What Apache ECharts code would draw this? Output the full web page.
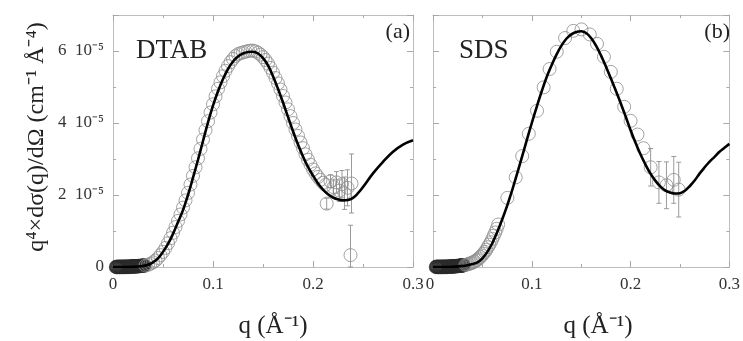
<!DOCTYPE html>
<html><head><meta charset="utf-8">
<script src="https://cdn.jsdelivr.net/npm/echarts@6/dist/echarts.min.js"></script>
<style>html,body{margin:0;padding:0;background:#fff}#c{width:743px;height:341px}</style>
</head><body><div id="c"></div>
<script>
// ---- tick labels ----
const xTickValues = [0, 0.1, 0.2, 0.3];
const xTickLabels = ['0', '0.1', '0.2', '0.3'];
const yTickValues = [0, 2, 4, 6];            // units of 1e-5
const yTickLabels = ['0', '2\u200210⁻⁵', '4\u200210⁻⁵', '6\u200210⁻⁵'];

// ---- DTAB (panel a), y in units of 1e-5 ----
const dtabFitQ = [0,0.01,0.02,0.03,0.035,0.04,0.045,0.05,0.055,0.06,0.065,0.07,0.075,0.08,0.085,0.09,0.095,0.1,0.105,0.11,0.115,0.12,0.125,0.13,0.135,0.14,0.145,0.15,0.155,0.16,0.165,0.17,0.175,0.18,0.185,0.19,0.195,0.2,0.205,0.21,0.215,0.22,0.225,0.23,0.235,0.24,0.245,0.25,0.26,0.27,0.28,0.29,0.3];
const dtabFitY = [0,0,0.005,0.03,0.06,0.13,0.24,0.42,0.64,0.92,1.25,1.58,2.0,2.48,2.98,3.5,4.02,4.48,4.88,5.22,5.5,5.71,5.85,5.93,5.97,5.98,5.93,5.8,5.6,5.3,4.95,4.57,4.17,3.77,3.4,3.07,2.78,2.54,2.32,2.15,2.02,1.93,1.88,1.85,1.86,1.92,2.05,2.22,2.6,2.92,3.2,3.4,3.52];

// low-q points (dense cluster near zero)
const dtabLowQ = [0.003,0.0038,0.0046,0.0054,0.0062,0.007,0.0078,0.0086,0.0094,0.0102,0.011,0.0118,0.0126,0.0134,0.0142,0.015,0.0158,0.0166,0.0174,0.0182,0.019,0.0198,0.0206,0.0214,0.0222,0.023,0.0238,0.0246,0.0254,0.0262,0.027,0.0278,0.0286,0.0294,0.0302,0.031];
const dtabLowY = [0,0,0,0.01,0,0,0.01,0,0,0.01,0,0.01,0,0.01,0.01,0,0.01,0.01,0.01,0.01,0.02,0.01,0.02,0.01,0.02,0.02,0.02,0.02,0.03,0.02,0.03,0.03,0.03,0.03,0.04,0.04];

const dtabQ = [0.0325,0.035,0.0375,0.04,0.0425,0.045,0.0475,0.05,0.0525,0.055,0.0575,0.06,0.0625,0.065,0.0675,
  0.07,0.0725,0.075,0.0775,0.08,0.0825,0.085,0.0875,0.09,0.0925,0.095,0.0975,
  0.1,0.1025,0.105,0.1075,0.11,0.1125,0.115,0.1175,0.12,0.1225,0.125,0.1275,
  0.13,0.1325,0.135,0.1375,0.14,0.1425,0.145,0.1475,0.15,0.1525,0.155,0.1575,
  0.16,0.1625,0.165,0.1675,0.17,0.1725,0.175,0.1775,0.18,0.1825,0.185,0.1875,
  0.19,0.1925,0.195,0.1975,0.2,0.2025,0.205,0.2075,0.21,0.2125];
const dtabY = [0.04,0.06,0.09,0.13,0.18,0.25,0.33,0.42,0.53,0.66,0.8,0.95,1.11,1.28,1.46,
  1.65,1.85,2.06,2.29,2.53,2.77,3.02,3.28,3.54,3.8,4.05,4.29,
  4.52,4.74,4.95,5.13,5.3,5.45,5.58,5.69,5.78,5.86,5.91,5.94,
  5.96,5.98,6.0,6.01,6.01,5.99,5.95,5.9,5.83,5.75,5.65,5.53,
  5.4,5.25,5.1,4.93,4.75,4.57,4.38,4.19,4.0,3.82,3.64,3.46,
  3.3,3.13,2.98,2.84,2.71,2.6,2.5,2.42,2.34,2.28];

const dtabErrQ = [0.2137,0.2175,0.2205,0.2235,0.2265,0.229,0.2315,0.2345,0.2385,0.2375];
const dtabErrY = [1.76,2.38,2.22,2.35,2.12,2.3,2.05,2.2,2.32,0.33];
const dtabErr  = [0.15,0.18,0.22,0.3,0.3,0.38,0.45,0.5,0.82,0.83];

// ---- SDS (panel b), y in units of 1e-5 ----
const sdsFitQ = [0,0.01,0.02,0.03,0.035,0.04,0.045,0.05,0.055,0.06,0.065,0.07,0.075,0.08,0.085,0.09,0.095,0.1,0.105,0.11,0.115,0.12,0.125,0.13,0.135,0.14,0.145,0.15,0.155,0.16,0.165,0.17,0.175,0.18,0.185,0.19,0.195,0.2,0.205,0.21,0.215,0.22,0.225,0.23,0.235,0.24,0.245,0.25,0.255,0.26,0.265,0.27,0.275,0.28,0.285,0.29,0.295,0.3];
const sdsFitY = [0,0,0.005,0.03,0.05,0.08,0.13,0.24,0.42,0.66,0.97,1.32,1.7,2.12,2.58,3.05,3.53,4.0,4.45,4.88,5.27,5.6,5.9,6.15,6.34,6.46,6.53,6.55,6.5,6.36,6.15,5.88,5.57,5.24,4.9,4.55,4.18,3.8,3.45,3.13,2.85,2.6,2.4,2.24,2.13,2.07,2.04,2.05,2.12,2.25,2.41,2.6,2.77,2.93,3.06,3.2,3.31,3.42];

const sdsLowQ = [0.003,0.0038,0.0046,0.0054,0.0062,0.007,0.0078,0.0086,0.0094,0.0102,0.011,0.0118,0.0126,0.0134,0.0142,0.015,0.0158,0.0166,0.0174,0.0182,0.019,0.0198,0.0206,0.0214,0.0222,0.023,0.0238,0.0246,0.0254,0.0262,0.027,0.0278,0.0286,0.0294,0.0302,0.031];
const sdsLowY = [0,0.01,0,0,0.01,0,0,0.01,0,0,0.01,0.01,0,0.01,0,0.01,0.01,0.01,0.01,0.02,0.01,0.01,0.02,0.02,0.02,0.02,0.03,0.02,0.03,0.03,0.03,0.04,0.04,0.04,0.05,0.05];

const sdsQ = [0.033,0.0345,0.036,0.0375,0.039,0.0405,0.042,0.0435,0.045,0.0465,0.048,0.0495,0.051,0.0525,0.054,0.0555,0.057,0.0585,0.06,0.0615,0.063,0.0645,0.066,
  0.0753,0.0837,0.0903,0.097,0.1053,0.112,0.118,0.1253,0.1337,0.142,0.1503,0.1587,0.166,0.173,0.18,0.186,0.1935,0.2,0.207,0.213];
const sdsY = [0.06,0.07,0.08,0.1,0.11,0.13,0.15,0.18,0.2,0.24,0.28,0.32,0.37,0.42,0.48,0.55,0.62,0.69,0.78,0.87,0.96,1.06,1.18,
  1.92,2.49,3.08,3.7,4.34,4.99,5.5,5.98,6.36,6.56,6.6,6.46,6.2,5.84,5.42,4.95,4.45,4.06,3.68,3.3];

const sdsErrQ = [0.2203,0.2287,0.2363,0.2437,0.2487];
const sdsErrY = [2.77,2.35,2.27,2.42,2.15];
const sdsErr  = [0.52,0.58,0.65,0.65,0.76];

// ---- build chart ----
const zip = (a, b) => a.map((v, i) => [v, b[i]]);
const zip3 = (a, b, c) => a.map((v, i) => [v, b[i], c[i]]);
const FONT = '"Liberation Serif", "Times New Roman", serif';
const AX = '#bdbdbd';
const TK = '#a8a8a8';

function xLabel(v) {
  const i = xTickValues.findIndex(t => Math.abs(t - v) < 1e-9);
  return i >= 0 ? xTickLabels[i] : '';
}
function yLabel(v) {
  const i = yTickValues.findIndex(t => Math.abs(t - v) < 1e-9);
  return i >= 0 ? yTickLabels[i] : '';
}

function xAxis(gi, pos, labels, showMin) {
  return {
    type: 'value', gridIndex: gi, position: pos, min: 0, max: 0.3, interval: 0.1,
    axisLine: { show: true, onZero: false, lineStyle: { color: AX, width: 1 } },
    axisTick: { show: true, inside: true, length: 6, lineStyle: { color: TK } },
    minorTick: { show: true, splitNumber: 2, length: 3, lineStyle: { color: TK } },
    splitLine: { show: false },
    axisLabel: { show: labels, formatter: xLabel, showMinLabel: showMin, showMaxLabel: true,
      fontFamily: FONT, fontSize: 17, color: '#333', margin: 9 }
  };
}
function yAxis(gi, pos, labels) {
  return {
    type: 'value', gridIndex: gi, position: pos, min: 0, max: 7, interval: 2,
    axisLine: { show: true, onZero: false, lineStyle: { color: AX, width: 1 } },
    axisTick: { show: true, inside: true, length: 6, lineStyle: { color: TK } },
    minorTick: { show: true, splitNumber: 2, length: 3, lineStyle: { color: TK } },
    splitLine: { show: false },
    axisLabel: { show: labels, formatter: yLabel, showMaxLabel: false, fontFamily: FONT, fontSize: 17, color: '#333', margin: 9 }
  };
}

function errRender(params, api) {
  const q = api.value(0), y = api.value(1), e = api.value(2);
  const top = api.coord([q, y + e]);
  const bot = api.coord([q, Math.max(y - e, 0)]);
  const hw = 2.5;
  const st = { stroke: '#9a9a9a', lineWidth: 1 };
  return {
    type: 'group', children: [
      { type: 'line', shape: { x1: top[0], y1: top[1], x2: bot[0], y2: bot[1] }, style: st },
      { type: 'line', shape: { x1: top[0] - hw, y1: top[1], x2: top[0] + hw, y2: top[1] }, style: st },
      { type: 'line', shape: { x1: bot[0] - hw, y1: bot[1], x2: bot[0] + hw, y2: bot[1] }, style: st }
    ]
  };
}

function scatter(xi, data, border, bw) {
  return { type: 'scatter', xAxisIndex: xi, yAxisIndex: xi, data, symbol: 'circle', symbolSize: 13,
    itemStyle: { color: 'rgba(0,0,0,0)', borderColor: border, borderWidth: bw },
    silent: true, animation: false, z: 2, large: false };
}
function fit(xi, data) {
  return { type: 'line', xAxisIndex: xi, yAxisIndex: xi, data, smooth: 0.4, showSymbol: false,
    lineStyle: { color: '#000', width: 2.6 }, silent: true, animation: false, z: 5 };
}
function errs(xi, data) {
  return { type: 'custom', xAxisIndex: xi, yAxisIndex: xi, data, renderItem: errRender, silent: true, animation: false, z: 1 };
}

const GREY = '#8c8c8c';
const DARK = '#2a2a2a';
const chart = echarts.init(document.getElementById('c'), null, { renderer: 'canvas' });
chart.setOption({
  backgroundColor: '#fff',
  animation: false,
  grid: [
    { left: 113, top: 15, width: 300, height: 252 },
    { left: 433, top: 15, width: 300, height: 252 }
  ],
  xAxis: [xAxis(0, 'bottom', true, true), xAxis(1, 'bottom', true, false), xAxis(0, 'top', false, false), xAxis(1, 'top', false, false)],
  yAxis: [yAxis(0, 'left', true), yAxis(1, 'left', false), yAxis(0, 'right', false), yAxis(1, 'right', false)],
  series: [
    errs(0, zip3(dtabErrQ, dtabErrY, dtabErr)),
    scatter(0, zip(dtabLowQ, dtabLowY), DARK, 1.4),
    scatter(0, zip(dtabQ, dtabY), GREY, 1),
    scatter(0, zip(dtabErrQ, dtabErrY), GREY, 1),
    fit(0, zip(dtabFitQ, dtabFitY)),
    errs(1, zip3(sdsErrQ, sdsErrY, sdsErr)),
    scatter(1, zip(sdsLowQ, sdsLowY), DARK, 1.4),
    scatter(1, zip(sdsQ, sdsY), GREY, 1),
    scatter(1, zip(sdsErrQ, sdsErrY), GREY, 1),
    fit(1, zip(sdsFitQ, sdsFitY))
  ],
  graphic: [
    { type: 'text', x: 37, y: 137, rotation: Math.PI / 2,
      style: { text: 'q⁴×dσ(q)/dΩ (cm⁻¹ Å⁻⁴)', font: '24px ' + FONT, fill: '#222', align: 'center', verticalAlign: 'middle' } },
    { type: 'text', x: 273, y: 326, style: { text: 'q (Å⁻¹)', font: '25px ' + FONT, fill: '#222', align: 'center', verticalAlign: 'middle' } },
    { type: 'text', x: 598, y: 326, style: { text: 'q (Å⁻¹)', font: '25px ' + FONT, fill: '#222', align: 'center', verticalAlign: 'middle' } },
    { type: 'text', x: 136, y: 51, style: { text: 'DTAB', font: '27px ' + FONT, fill: '#222', align: 'left', verticalAlign: 'middle' } },
    { type: 'text', x: 410, y: 32, style: { text: '(a)', font: '22px ' + FONT, fill: '#222', align: 'right', verticalAlign: 'middle' } },
    { type: 'text', x: 459, y: 51, style: { text: 'SDS', font: '27px ' + FONT, fill: '#222', align: 'left', verticalAlign: 'middle' } },
    { type: 'text', x: 730, y: 32, style: { text: '(b)', font: '22px ' + FONT, fill: '#222', align: 'right', verticalAlign: 'middle' } },
    // q = 0 label of the right panel (the axis's own min label did not render here)
    { type: 'text', x: 430, y: 285, z: 100, style: { text: xTickLabels[0], font: '17px ' + FONT, fill: '#333', align: 'center', verticalAlign: 'middle' } }
  ]
});
</script></body></html>
